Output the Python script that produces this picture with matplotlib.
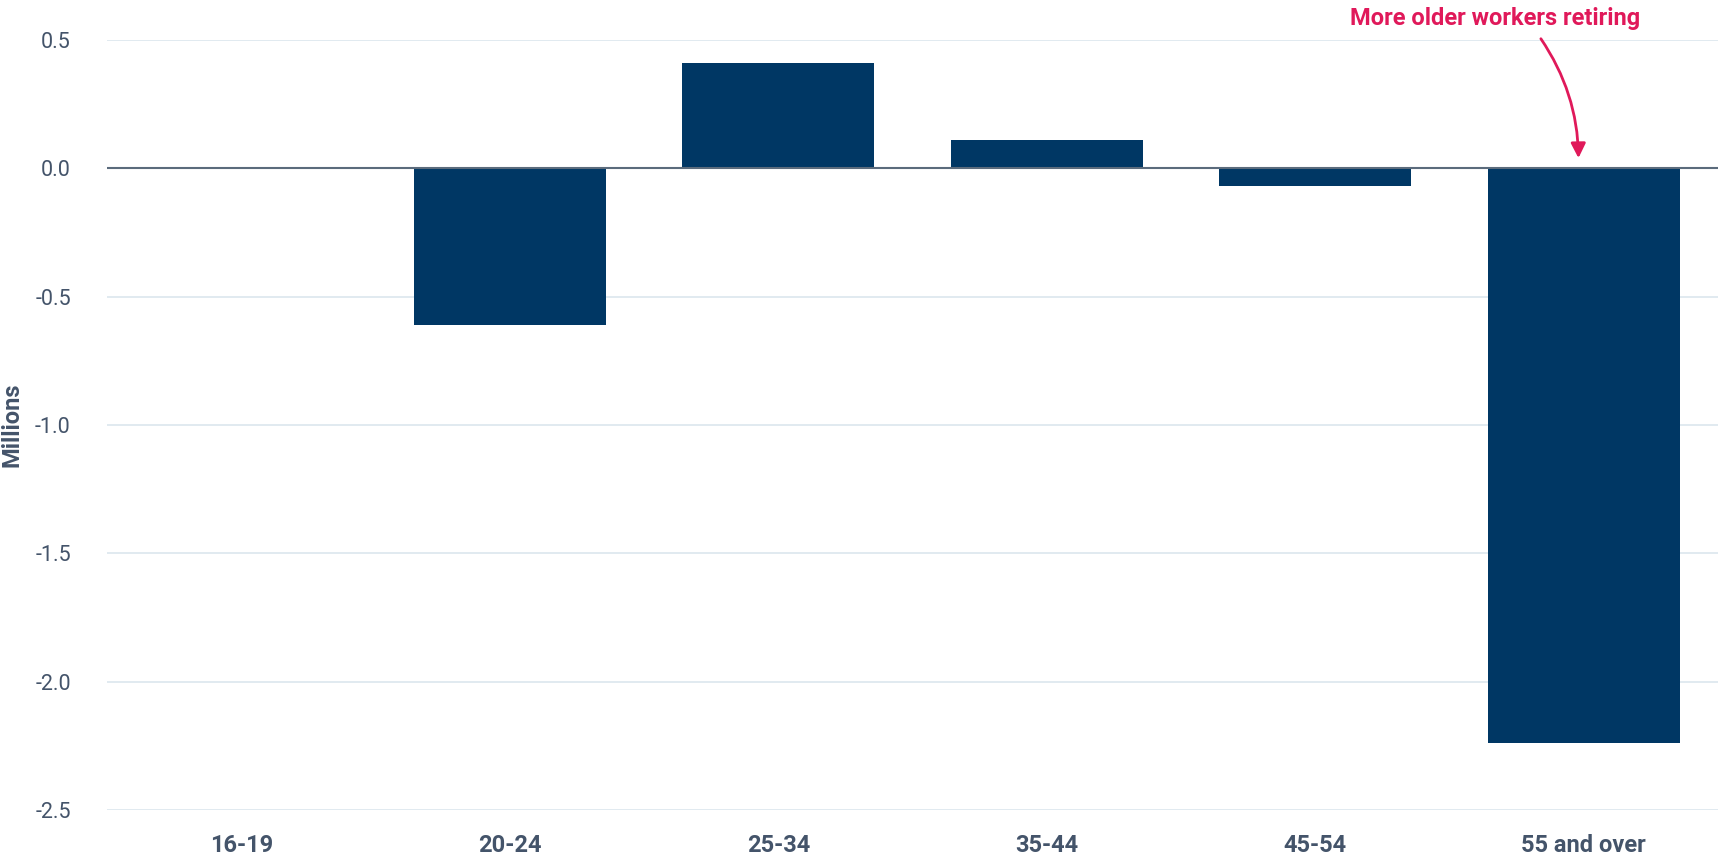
import matplotlib.pyplot as plt
import numpy as np

# data
age_groups = ["16-19", "20-24", "25-34", "35-44", "45-54", "55 and over"]
change_millions = [0.0, -0.61, 0.41, 0.11, -0.07, -2.24]
y_ticks = [0.5, 0.0, -0.5, -1.0, -1.5, -2.0, -2.5]

bar_color = "#003764"
text_color = "#44546A"
grid_color = "#DCE6EE"
zero_color = "#5B6B7C"
note_color = "#E0195A"

fig = plt.figure(figsize=(17.25, 8.57), dpi=100)
ax = fig.add_axes([0.062, 0.0548, 0.934, 0.8985])

x = np.arange(len(age_groups))
ax.bar(x, change_millions, width=0.714, color=bar_color, zorder=2)

ax.set_xlim(-0.5, len(age_groups) - 0.5)
ax.set_ylim(-2.5, 0.5)
ax.set_yticks(y_ticks)
ax.set_yticklabels([f"{v:.1f}" for v in y_ticks], fontsize=15.5, color=text_color,
                   family="Roboto")
ax.set_xticks(x)
ax.set_xticklabels(age_groups, fontsize=17, fontweight="bold", color=text_color,
                   family="Roboto")
ax.tick_params(axis="both", length=0)
ax.tick_params(axis="y", pad=26)
ax.tick_params(axis="x", pad=17)

for s in ax.spines.values():
    s.set_visible(False)
ax.yaxis.grid(True, color=grid_color, lw=1.2, zorder=0)
ax.axhline(0, color=zero_color, lw=1.5, zorder=3)

ax.set_ylabel("Millions", fontsize=17, fontweight="bold", color=text_color,
              family="Roboto")
ax.yaxis.set_label_coords(-0.052, 0.5)

# annotation
ax.text(4.67, 0.585, "More older workers retiring", ha="center", va="center",
        fontsize=17, fontweight="bold", color=note_color,
        family="Roboto", clip_on=False)
ax.annotate("", xy=(4.98, 0.04), xytext=(4.84, 0.505),
            arrowprops=dict(arrowstyle="-|>", color=note_color, lw=2,
                            mutation_scale=22, shrinkA=0, shrinkB=0,
                            connectionstyle="arc3,rad=-0.15"),
            annotation_clip=False)

fig.savefig("out.png", dpi=100)
